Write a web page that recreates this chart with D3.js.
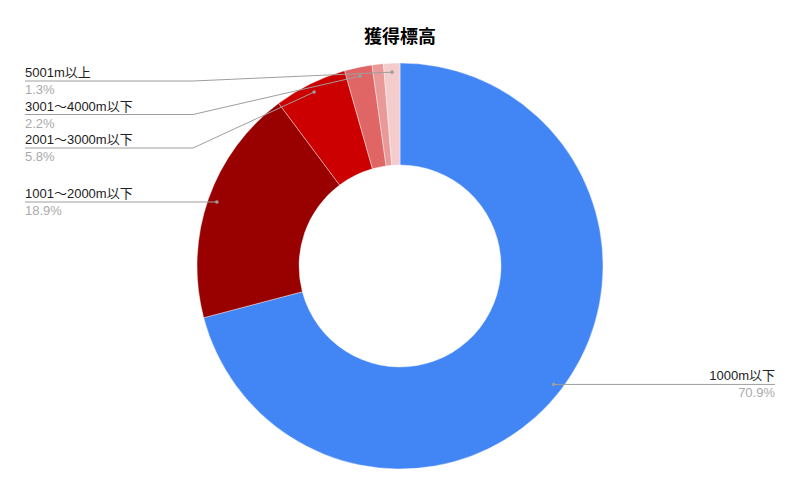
<!DOCTYPE html>
<html>
<head>
<meta charset="utf-8">
<script src="https://cdn.jsdelivr.net/npm/d3@7"></script>
<style>
  body { margin: 0; background: #fff; }
  text { font-family: "Liberation Sans", Arial, "Noto Sans CJK JP", sans-serif; }
</style>
</head>
<body>
<div id="chart"></div>
<script>
// Chart data
const categories = ['1000m以下', '1001〜2000m以下', '2001〜3000m以下', '3001〜4000m以下', '4001〜5000m以下', '5001m以上'];
const shares = [70.9, 18.9, 5.8, 2.2, 0.9, 1.3];
const colors = ['#4285f4', '#990000', '#cc0000', '#e06666', '#ea9999', '#f4cccc'];
const labelShown = [true, true, true, true, false, true];
const title = '獲得標高';

const width = 800;
const height = 496;
const cx = 400, cy = 266;
const outerR = 203, innerR = 101;
const dotR = outerR - 9;

const svg = d3.select('#chart')
    .append('svg')
    .attr('width', width)
    .attr('height', height);

// Title
svg.append('text')
    .attr('x', width / 2)
    .attr('y', 43)
    .attr('text-anchor', 'middle')
    .attr('font-size', '18px')
    .attr('font-weight', 'bold')
    .attr('fill', '#000')
    .text(title);

const data = categories.map((c, i) => ({ name: c, value: shares[i], color: colors[i], shown: labelShown[i] }));

const pie = d3.pie().sort(null).value(d => d.value);
const arcs = pie(data);

const arc = d3.arc().innerRadius(innerR).outerRadius(outerR);

const g = svg.append('g').attr('transform', `translate(${cx},${cy})`);

g.selectAll('path')
    .data(arcs)
    .enter()
    .append('path')
    .attr('d', arc)
    .attr('fill', d => d.data.color)
    .attr('stroke', '#fff')
    .attr('stroke-width', 0.4);

// Label anchor points on the slices
const total = d3.sum(shares);
const fmt = v => (v / total * 100).toFixed(1) + '%';

const labels = arcs.filter(a => a.data.shown).map(a => {
    const mid = (a.startAngle + a.endAngle) / 2;
    const px = cx + dotR * Math.sin(mid);
    const py = cy - dotR * Math.cos(mid);
    return { a, px, py, side: px < cx ? 'left' : 'right' };
});

// Stack left labels so they don't collide
const spacing = 33.5;
const minY = 81;
const left = labels.filter(l => l.side === 'left').sort((p, q) => p.py - q.py);
let prev = -Infinity;
left.forEach(l => {
    l.ly = Math.max(l.py, minY, prev + spacing);
    prev = l.ly;
});
labels.filter(l => l.side === 'right').forEach(l => { l.ly = l.py; });

const lineColor = '#9e9e9e';
const leftX = 25, bendX = 193, rightX = 775;

labels.forEach(l => {
    let pts;
    if (l.side === 'left') {
        const bx = Math.min(bendX, l.px);
        pts = [[leftX, l.ly], [bx, l.ly], [l.px, l.py]];
    } else {
        pts = [[rightX, l.ly], [l.px, l.ly], [l.px, l.py]];
    }
    svg.append('path')
        .attr('d', d3.line()(pts))
        .attr('fill', 'none')
        .attr('stroke', lineColor)
        .attr('stroke-width', 1);

    svg.append('circle')
        .attr('cx', l.px)
        .attr('cy', l.py)
        .attr('r', 1.8)
        .attr('fill', lineColor);

    const tx = l.side === 'left' ? leftX : rightX;
    const anchor = l.side === 'left' ? 'start' : 'end';

    svg.append('text')
        .attr('x', tx)
        .attr('y', l.ly - 4)
        .attr('text-anchor', anchor)
        .attr('font-size', '13px')
        .attr('fill', '#222')
        .text(l.a.data.name);

    svg.append('text')
        .attr('x', tx)
        .attr('y', l.ly + 13)
        .attr('text-anchor', anchor)
        .attr('font-size', '13px')
        .attr('fill', '#aaaaaa')
        .text(fmt(l.a.data.value));
});
</script>
</body>
</html>
